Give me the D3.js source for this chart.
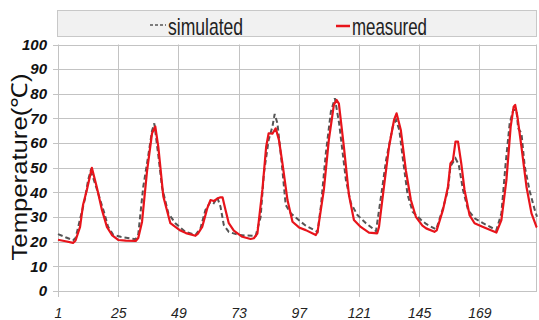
<!DOCTYPE html>
<html>
<head>
<meta charset="utf-8">
<script src="https://cdn.jsdelivr.net/npm/d3@7"></script>
<style>
  body { margin: 0; background: #fff; }
  svg { display: block; }
</style>
</head>
<body>
<svg id="chart" width="539" height="320"></svg>
<script>
// hour-of-run (1..192) and temperature readings
const simHours = [1, 4, 7, 8, 10, 11.8, 13, 14, 15, 17, 19.5, 21, 23, 26, 32, 33, 35, 37, 38.5, 39.4, 41, 42.5, 45, 47.8,
  51.8, 55.8, 57.8, 59.8, 61.8, 63.1, 64.5, 65.8, 67.1, 69.1, 73.1, 79.8, 81.8, 83.1, 85, 86.5, 87.4, 88.5, 90.1, 91.8, 93.8,
  97.8, 99.8, 104.5, 105.8, 107.8, 109.8, 111.4, 113.1, 115.8, 117.8, 120.4, 123.8, 127.8, 129.8, 131.8, 134.5, 135.8,
  137.1, 138.4, 140.4, 142.4, 145.8, 147.8, 151.8, 154.5, 156.5, 157.5, 159.5, 160.8, 162.5, 164.5, 167.1, 170.5, 175.8,
  177.8, 179.5, 181.1, 182.5, 183.8, 184.5, 185.8, 187.1, 189.1, 191.1, 192];
const simTemp = [23.1, 21.8, 20.6, 21.5, 30, 37.6, 45, 48.7, 46, 39.7, 31.5, 26, 22.8, 22, 21, 23, 42.3, 55, 65, 68, 55, 42, 31.5, 27.5,
  24, 22.7, 25.4, 32.9, 36.2, 35.6, 38, 34.2, 26.8, 24, 22.7, 22.3, 30, 47.7, 61.3, 66.7, 71.8, 68, 53, 34.9, 31.5,
  28.1, 26.5, 24, 34.2, 55.9, 72.7, 78.2, 68, 45, 35.6, 30.8, 27.5, 24.3, 38.3, 53, 66.7, 69.4,
  65.3, 54.5, 39, 32.2, 28.8, 27.2, 25, 33.5, 41, 50.6, 53.8, 51.2, 41, 32.9, 29.5, 27.5, 24.7,
  31.5, 51.8, 68, 73.4, 73.4, 66, 64, 50.6, 40.5, 32.9, 30.1];

const measHours = [1, 4, 7, 8, 9.8, 11, 12.5, 14.5, 16.5, 18.5, 20.5, 22.5, 25, 28, 32, 33, 34.5, 36.5, 38.5, 39.8, 41, 43, 45.8,
  49.8, 52, 55.8, 56.8, 58.5, 60.5, 61.8, 63.1, 64.5, 65.8, 66.6, 67.8, 69.1, 71.1, 74.5, 77.8, 79.1, 80.5, 82.5, 84, 85,
  86.5, 87.8, 89.1, 90.5, 92.5, 94.5, 97.1, 99.8, 103.8, 104.5, 107, 109, 111, 112.1, 113, 115, 117, 119, 121.7, 125,
  128.3, 129, 131.3, 133, 135, 136, 137.7, 139.7, 141.7, 143.7, 146.3, 147.8, 151.1, 152, 154.5, 156.5, 157.5, 158.5,
  159.5, 160.5, 161.8, 163.1, 165.1, 167.1, 170.5, 175.8, 177.8, 179.8, 181.5, 182.7, 183.3, 184.2, 185.8, 187.8, 189.8,
  191.8, 192];
const measTemp = [20.8, 20.2, 19.5, 20.5, 26, 35, 41, 50, 42, 33, 26, 22.7, 20.7, 20.4, 20.3, 21.5, 28, 48.6, 64, 66.7, 58.5, 38.3, 27.5,
  24.5, 23.5, 22.4, 23.3, 26, 33.5, 36.9, 36.5, 37.5, 38, 38, 32.9, 27.5, 24.5, 22, 21.1, 21.4, 23.3, 41, 58.5, 64,
  63.8, 66, 61.3, 51.8, 36.9, 28.1, 25.8, 24.7, 22.7, 24, 41, 61.3, 75.5, 77.5, 76, 58.5, 39, 28.8, 26, 23.7,
  23.4, 26, 45, 58.5, 69.4, 72.1, 65.3, 49, 36.9, 30.1, 26.5, 25.4, 24, 24.6, 32.9, 42.3, 51.8, 53.1,
  60.6, 60.6, 51.8, 41, 30.8, 27.5, 26, 23.7, 28.8, 45, 66.7, 74.8, 75.5, 70.7, 58.5, 42.3, 31.5,
  26, 25.8];

const xTicks = [1, 25, 49, 73, 97, 121, 145, 169];
const yTicks = [0, 10, 20, 30, 40, 50, 60, 70, 80, 90, 100];
const seriesNames = ['simulated', 'measured'];

const svg = d3.select('#chart');
const plotL = 58, plotR = 537, plotT = 44.5, plotB = 291;

const x = d3.scaleLinear().domain([1, 192]).range([plotL, plotR]);
const y = d3.scaleLinear().domain([0, 100]).range([plotB, plotT]);

// grid
const grid = svg.append('g').attr('stroke', '#c3c3c3').attr('stroke-width', 1);
grid.selectAll('line.h')
  .data(yTicks)
  .enter().append('line')
  .attr('x1', plotL - 5).attr('x2', plotR)
  .attr('y1', d => Math.round(y(d)) + 0.5).attr('y2', d => Math.round(y(d)) + 0.5);
grid.selectAll('line.v')
  .data(xTicks)
  .enter().append('line')
  .attr('x1', d => Math.round(x(d)) + 0.5).attr('x2', d => Math.round(x(d)) + 0.5)
  .attr('y1', plotT).attr('y2', plotB + 6);
grid.append('line')
  .attr('x1', plotR - 0.5).attr('x2', plotR - 0.5)
  .attr('y1', plotT).attr('y2', plotB);

// axis labels
const yAxis = svg.append('g')
  .attr('transform', `translate(${plotL},0)`)
  .call(d3.axisLeft(y).tickValues(yTicks).tickSize(0).tickPadding(11));
yAxis.select('.domain').remove();
yAxis.selectAll('text')
  .attr('font-family', 'Liberation Sans Narrow, Liberation Sans, Arial, sans-serif')
  .attr('font-size', 15)
  .attr('font-weight', 'bold')
  .attr('font-style', 'italic')
  .attr('fill', '#111');

const xAxis = svg.append('g')
  .attr('transform', `translate(0,${plotB})`)
  .call(d3.axisBottom(x).tickValues(xTicks).tickSize(0).tickPadding(17).tickFormat(d3.format('d')));
xAxis.select('.domain').remove();
xAxis.selectAll('text')
  .attr('font-family', 'Liberation Sans Narrow, Liberation Sans, Arial, sans-serif')
  .attr('font-size', 14)
  .attr('font-style', 'italic')
  .attr('fill', '#222');

svg.append('text')
  .attr('transform', 'translate(27,167) rotate(-90)')
  .attr('text-anchor', 'middle')
  .attr('font-family', 'Liberation Sans, Arial, sans-serif')
  .attr('font-size', 22)
  .attr('fill', '#111')
  .attr('textLength', 187)
  .attr('lengthAdjust', 'spacingAndGlyphs')
  .text('Temperature(℃)');

// lines
const line = (hours, temps) => d3.line()
  .x((d, i) => x(hours[i]))
  .y(d => y(d))(temps);

svg.append('path')
  .attr('d', line(simHours, simTemp))
  .attr('fill', 'none')
  .attr('stroke', '#555')
  .attr('stroke-width', 2)
  .attr('stroke-dasharray', '5,3');

svg.append('path')
  .attr('d', line(measHours, measTemp))
  .attr('fill', 'none')
  .attr('stroke', '#e8141b')
  .attr('stroke-width', 2.2)
  .attr('stroke-linejoin', 'round');

// legend
const legend = svg.append('g');
legend.append('rect')
  .attr('x', 57.5).attr('y', 10.5).attr('width', 479).attr('height', 26)
  .attr('fill', '#f1f1f1').attr('stroke', '#c8c8c8');
legend.append('line')
  .attr('x1', 150).attr('x2', 166).attr('y1', 25).attr('y2', 25)
  .attr('stroke', '#555').attr('stroke-width', 1.5).attr('stroke-dasharray', '3,2');
legend.append('line')
  .attr('x1', 336).attr('x2', 350).attr('y1', 26).attr('y2', 26)
  .attr('stroke', '#e8141b').attr('stroke-width', 2.5);
legend.selectAll('text.lg')
  .data(seriesNames)
  .enter().append('text')
  .attr('x', (d, i) => i === 0 ? 168 : 352)
  .attr('y', 35)
  .attr('font-family', 'Liberation Sans Narrow, Liberation Sans, Arial, sans-serif')
  .attr('font-size', 24)
  .attr('fill', '#222')
  .attr('textLength', 75)
  .attr('lengthAdjust', 'spacingAndGlyphs')
  .text(d => d);
</script>
</body>
</html>
